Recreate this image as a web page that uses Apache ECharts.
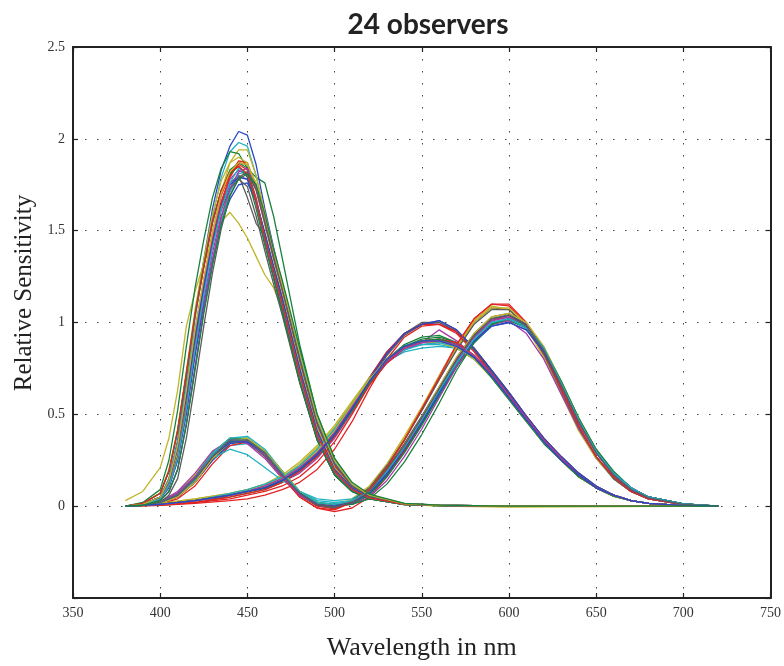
<!DOCTYPE html>
<html>
<head>
<meta charset="utf-8">
<title>24 observers</title>
<script src="https://cdn.jsdelivr.net/npm/echarts@6/dist/echarts.min.js"></script>
<style>
  html, body { margin: 0; padding: 0; background: #fff; }
  #chart { width: 784px; height: 666px; }
</style>
</head>
<body>
<div id="chart"></div>
<script>
// wavelength grids (nm) for each kind of curve
const xWl = [380,390,400,410,420,430,440,450,460,470,480,490,500,510,520,530,540,550,560,570,580,590,600,610,620,630,640,650,660,670,680,700,720]
const yWl = [380,400,420,440,450,460,470,480,490,500,510,520,530,540,550,560,570,580,590,600,610,620,630,640,650,660,670,680,700,720]
const zWl = [380,390,400,405,410,415,420,425,430,435,440,445,450,455,460,465,470,480,490,500,510,520,540,560,600,720]

// x-bar like curves, one row per observer
const xBar = [
  [0,0.005,0.02,0.06,0.15,0.27,0.35,0.36,0.29,0.18, 0.07,0.01,0.00,0.02,0.08,0.19,0.32,0.47,0.63,0.79, 0.91,1.00,1.02,0.97,0.84,0.66,0.46,0.29,0.17,0.09, 0.045,0.01,0],
  [0,0.005,0.02,0.05,0.13,0.25,0.33,0.34,0.28,0.18, 0.08,0.03,0.02,0.03,0.08,0.18,0.31,0.45,0.61,0.77, 0.90,0.99,1.02,0.97,0.85,0.67,0.47,0.30,0.18,0.10, 0.05,0.012,0],
  [0,0.005,0.02,0.07,0.16,0.28,0.36,0.36,0.28,0.16, 0.06,0.005,-0.01,0.03,0.10,0.22,0.36,0.52,0.69,0.86, 1.00,1.08,1.07,0.98,0.82,0.62,0.42,0.26,0.15,0.08, 0.04,0.008,0],
  [0,0.004,0.015,0.05,0.13,0.26,0.35,0.36,0.29,0.17, 0.06,0.00,-0.015,0.02,0.09,0.21,0.36,0.53,0.71,0.88, 1.02,1.10,1.09,0.99,0.83,0.63,0.43,0.27,0.15,0.08, 0.04,0.008,0],
  [0,0.005,0.02,0.07,0.17,0.29,0.37,0.36,0.28,0.16, 0.06,0.01,0.00,0.04,0.11,0.23,0.38,0.54,0.71,0.87, 1.01,1.09,1.07,0.97,0.81,0.61,0.41,0.26,0.15,0.08, 0.04,0.008,0],
  [0,0.005,0.02,0.07,0.16,0.29,0.37,0.37,0.30,0.18, 0.07,0.01,-0.005,0.015,0.07,0.17,0.30,0.45,0.61,0.77, 0.90,0.99,1.02,0.98,0.86,0.68,0.48,0.31,0.18,0.10, 0.05,0.012,0],
  [0,0.006,0.025,0.08,0.18,0.30,0.36,0.34,0.26,0.15, 0.06,0.01,0.00,0.02,0.08,0.19,0.33,0.48,0.64,0.80, 0.92,1.01,1.03,0.97,0.84,0.65,0.45,0.29,0.17,0.09, 0.045,0.01,0],
  [0,0.004,0.015,0.05,0.13,0.25,0.34,0.35,0.29,0.18, 0.08,0.015,0.00,0.02,0.07,0.17,0.30,0.45,0.61,0.76, 0.89,0.98,1.00,0.96,0.84,0.66,0.46,0.30,0.18,0.10, 0.05,0.012,0],
  [0,0.005,0.02,0.07,0.16,0.29,0.37,0.38,0.31,0.19, 0.08,0.02,0.01,0.03,0.09,0.20,0.33,0.48,0.64,0.80, 0.93,1.02,1.04,0.98,0.85,0.66,0.46,0.29,0.17,0.09, 0.045,0.01,0],
  [0,0.005,0.02,0.06,0.15,0.28,0.36,0.36,0.29,0.17, 0.07,0.01,-0.005,0.02,0.08,0.20,0.34,0.49,0.65,0.81, 0.94,1.03,1.05,0.99,0.86,0.67,0.47,0.30,0.18,0.10, 0.05,0.012,0],
  [0,0.003,0.012,0.04,0.11,0.23,0.33,0.35,0.28,0.16, 0.05,-0.01,-0.03,-0.01,0.05,0.16,0.30,0.46,0.63,0.79, 0.92,1.01,1.04,0.99,0.86,0.67,0.47,0.30,0.18,0.10, 0.05,0.012,0],
  [0,0.005,0.02,0.06,0.15,0.28,0.36,0.36,0.29,0.17, 0.07,0.01,-0.005,0.03,0.10,0.22,0.37,0.53,0.70,0.86, 1.00,1.08,1.08,0.99,0.83,0.63,0.43,0.27,0.16,0.08, 0.04,0.008,0],
  [0,0.005,0.02,0.06,0.14,0.26,0.35,0.36,0.30,0.19, 0.08,0.02,0.00,0.01,0.06,0.16,0.29,0.44,0.60,0.76, 0.89,0.99,1.01,0.97,0.85,0.67,0.47,0.30,0.18,0.10, 0.05,0.012,0],
  [0,0.005,0.02,0.06,0.15,0.27,0.35,0.35,0.28,0.17, 0.07,0.015,0.005,0.01,0.05,0.14,0.27,0.42,0.59,0.76, 0.90,0.99,1.01,0.94,0.80,0.61,0.42,0.27,0.16,0.08, 0.04,0.01,0],
  [0,0.005,0.02,0.06,0.15,0.27,0.36,0.36,0.29,0.17, 0.07,0.01,0.00,0.02,0.08,0.19,0.33,0.48,0.64,0.80, 0.93,1.02,1.04,0.99,0.86,0.67,0.47,0.30,0.18,0.10, 0.05,0.012,0],
  [0,0.005,0.02,0.06,0.14,0.26,0.31,0.28,0.21,0.14, 0.08,0.04,0.03,0.04,0.09,0.19,0.32,0.47,0.62,0.78, 0.91,1.00,1.02,0.97,0.85,0.66,0.46,0.29,0.17,0.09, 0.045,0.01,0],
  [0,0.005,0.02,0.07,0.16,0.28,0.36,0.35,0.27,0.16, 0.06,0.005,-0.01,0.03,0.10,0.22,0.36,0.52,0.69,0.85, 0.99,1.07,1.07,0.98,0.83,0.63,0.43,0.27,0.15,0.08, 0.04,0.008,0],
  [0,0.004,0.015,0.05,0.13,0.26,0.35,0.36,0.29,0.16, 0.05,-0.01,-0.02,0.02,0.09,0.21,0.36,0.53,0.70,0.88, 1.02,1.10,1.10,1.00,0.84,0.64,0.44,0.27,0.16,0.08, 0.04,0.008,0],
  [0,0.004,0.015,0.05,0.13,0.26,0.35,0.37,0.30,0.19, 0.08,0.02,0.00,0.02,0.08,0.19,0.33,0.48,0.65,0.81, 0.94,1.03,1.05,1.00,0.87,0.68,0.48,0.31,0.18,0.10, 0.05,0.012,0],
  [0,0.005,0.02,0.06,0.15,0.27,0.35,0.35,0.28,0.17, 0.07,0.02,0.01,0.01,0.04,0.12,0.24,0.39,0.56,0.74, 0.89,0.99,1.02,0.98,0.86,0.68,0.48,0.31,0.19,0.10, 0.05,0.012,0],
  [0,0.005,0.02,0.07,0.16,0.28,0.36,0.35,0.28,0.16, 0.06,0.01,0.00,0.02,0.08,0.19,0.32,0.47,0.63,0.79, 0.92,1.01,1.03,0.98,0.85,0.66,0.46,0.29,0.17,0.09, 0.045,0.01,0],
  [0,0.005,0.02,0.06,0.15,0.27,0.35,0.35,0.29,0.18, 0.07,0.01,0.00,0.02,0.07,0.18,0.31,0.46,0.62,0.78, 0.90,0.98,1.00,0.96,0.84,0.66,0.46,0.30,0.18,0.10, 0.05,0.012,0],
  [0,0.005,0.02,0.06,0.15,0.28,0.36,0.36,0.29,0.18, 0.08,0.02,0.01,0.03,0.08,0.19,0.32,0.47,0.63,0.78, 0.91,1.00,1.02,0.98,0.86,0.67,0.47,0.30,0.18,0.10, 0.05,0.012,0],
  [0,0.005,0.02,0.06,0.15,0.27,0.36,0.36,0.29,0.17, 0.07,0.01,-0.005,0.02,0.08,0.20,0.33,0.48,0.64,0.80, 0.93,1.02,1.04,0.98,0.85,0.66,0.46,0.29,0.17,0.09, 0.045,0.01,0]
]

// y-bar like curves, one row per observer
const yBar = [
  [0,0.01,0.03,0.06, 0.08,0.10,0.14,0.20,0.28,0.39,0.53,0.68,0.79,0.86, 0.89,0.90,0.88,0.82,0.72,0.60,0.48,0.36,0.26,0.17, 0.10,0.06,0.03,0.015, 0.003,0],
  [0,0.01,0.03,0.06, 0.08,0.10,0.13,0.18,0.26,0.37,0.51,0.66,0.78,0.86, 0.89,0.96,0.90,0.82,0.72,0.60,0.48,0.36,0.26,0.17, 0.10,0.06,0.03,0.015, 0.003,0],
  [0,0.01,0.03,0.06, 0.08,0.11,0.15,0.21,0.30,0.41,0.55,0.70,0.84,0.94, 0.99,1.00,0.95,0.85,0.73,0.61,0.48,0.36,0.26,0.17, 0.10,0.06,0.03,0.015, 0.003,0],
  [0,0.01,0.03,0.06, 0.08,0.11,0.15,0.22,0.31,0.42,0.56,0.70,0.79,0.84, 0.86,0.87,0.86,0.80,0.71,0.59,0.47,0.35,0.25,0.17, 0.10,0.06,0.03,0.015, 0.003,0],
  [0,0.01,0.03,0.06, 0.08,0.10,0.14,0.20,0.28,0.39,0.53,0.69,0.83,0.94, 1.00,1.00,0.95,0.85,0.73,0.61,0.48,0.36,0.26,0.17, 0.10,0.06,0.03,0.015, 0.003,0],
  [0,0.005,0.015,0.03, 0.04,0.06,0.09,0.13,0.20,0.31,0.46,0.64,0.80,0.92, 0.98,0.99,0.95,0.86,0.74,0.62,0.49,0.37,0.27,0.18, 0.11,0.06,0.03,0.015, 0.003,0],
  [0,0.015,0.04,0.07, 0.09,0.12,0.17,0.24,0.33,0.44,0.57,0.70,0.80,0.86, 0.89,0.90,0.87,0.81,0.71,0.59,0.47,0.35,0.25,0.17, 0.10,0.06,0.03,0.015, 0.003,0],
  [0,0.01,0.03,0.05, 0.07,0.09,0.13,0.19,0.27,0.38,0.52,0.67,0.79,0.87, 0.91,0.92,0.89,0.82,0.71,0.59,0.47,0.35,0.25,0.16, 0.10,0.055,0.03,0.015, 0.003,0],
  [0,0.01,0.03,0.06, 0.08,0.10,0.14,0.20,0.28,0.39,0.53,0.68,0.79,0.86, 0.88,0.89,0.87,0.81,0.72,0.60,0.48,0.36,0.26,0.17, 0.10,0.06,0.03,0.015, 0.003,0],
  [0,0.01,0.03,0.06, 0.08,0.10,0.14,0.20,0.29,0.40,0.54,0.69,0.80,0.87, 0.90,0.90,0.88,0.82,0.72,0.60,0.48,0.36,0.26,0.17, 0.10,0.06,0.03,0.015, 0.003,0],
  [0,0.01,0.03,0.06, 0.08,0.11,0.15,0.21,0.30,0.41,0.55,0.69,0.80,0.86, 0.88,0.88,0.86,0.80,0.71,0.60,0.48,0.36,0.26,0.17, 0.10,0.06,0.03,0.015, 0.003,0],
  [0,0.01,0.03,0.06, 0.08,0.10,0.14,0.20,0.28,0.39,0.53,0.68,0.82,0.93, 0.99,1.01,0.96,0.86,0.74,0.62,0.49,0.37,0.27,0.18, 0.11,0.06,0.03,0.015, 0.003,0],
  [0,0.01,0.02,0.05, 0.07,0.09,0.13,0.19,0.27,0.38,0.53,0.70,0.84,0.94, 0.99,0.99,0.94,0.84,0.72,0.60,0.47,0.35,0.25,0.16, 0.10,0.055,0.03,0.015, 0.003,0],
  [0,0.015,0.04,0.07, 0.09,0.12,0.16,0.23,0.32,0.43,0.56,0.70,0.80,0.86, 0.89,0.89,0.86,0.80,0.70,0.58,0.46,0.35,0.25,0.16, 0.10,0.055,0.03,0.015, 0.003,0],
  [0,0.01,0.03,0.06, 0.08,0.10,0.14,0.20,0.28,0.39,0.53,0.68,0.80,0.88, 0.92,0.93,0.89,0.81,0.70,0.58,0.46,0.34,0.25,0.16, 0.10,0.055,0.03,0.015, 0.003,0],
  [0,0.01,0.03,0.06, 0.08,0.10,0.14,0.20,0.28,0.39,0.53,0.67,0.78,0.85, 0.89,0.91,0.89,0.82,0.72,0.60,0.48,0.36,0.26,0.17, 0.10,0.06,0.03,0.015, 0.003,0],
  [0,0.01,0.03,0.06, 0.08,0.10,0.14,0.21,0.29,0.40,0.54,0.69,0.83,0.94, 0.99,1.01,0.96,0.86,0.74,0.62,0.49,0.37,0.27,0.18, 0.11,0.06,0.03,0.015, 0.003,0],
  [0,0.01,0.03,0.07, 0.09,0.12,0.16,0.22,0.31,0.42,0.55,0.69,0.79,0.85, 0.88,0.89,0.87,0.81,0.71,0.59,0.47,0.35,0.25,0.17, 0.10,0.06,0.03,0.015, 0.003,0],
  [0,0.01,0.03,0.06, 0.08,0.10,0.14,0.20,0.28,0.39,0.53,0.68,0.80,0.87, 0.90,0.91,0.88,0.82,0.72,0.60,0.48,0.36,0.26,0.17, 0.10,0.06,0.03,0.015, 0.003,0],
  [0,0.005,0.02,0.04, 0.06,0.08,0.11,0.16,0.24,0.35,0.50,0.66,0.78,0.86, 0.90,0.91,0.89,0.82,0.72,0.60,0.48,0.36,0.26,0.17, 0.10,0.06,0.03,0.015, 0.003,0],
  [0,0.01,0.03,0.06, 0.08,0.11,0.15,0.21,0.30,0.41,0.55,0.69,0.80,0.87, 0.90,0.90,0.87,0.81,0.71,0.59,0.47,0.35,0.25,0.16, 0.10,0.055,0.03,0.015, 0.003,0],
  [0,0.01,0.03,0.06, 0.08,0.10,0.14,0.20,0.28,0.39,0.52,0.67,0.79,0.87, 0.90,0.91,0.88,0.81,0.71,0.59,0.47,0.35,0.25,0.16, 0.10,0.055,0.03,0.015, 0.003,0],
  [0,0.01,0.03,0.06, 0.08,0.11,0.15,0.21,0.29,0.40,0.54,0.68,0.79,0.86, 0.89,0.90,0.88,0.82,0.72,0.60,0.48,0.36,0.26,0.17, 0.10,0.06,0.03,0.015, 0.003,0],
  [0,0.01,0.03,0.06, 0.08,0.10,0.14,0.20,0.28,0.39,0.53,0.68,0.80,0.87, 0.90,0.90,0.87,0.81,0.71,0.59,0.47,0.35,0.25,0.17, 0.10,0.06,0.03,0.015, 0.003,0]
]

// z-bar like curves, one row per observer
const zBar = [
  [0,0.01,0.05,0.14,0.33,0.63,0.96,1.23,1.49,1.69,1.81, 1.86,1.83,1.68,1.47,1.29,1.11, 0.73,0.39,0.19,0.09,0.045, 0.01,0.004, 0,0],
  [0.03,0.08,0.21,0.37,0.63,0.98,1.17,1.32,1.45,1.55,1.60, 1.54,1.46,1.36,1.26,1.19,1.07, 0.72,0.40,0.20,0.09,0.045, 0.01,0.0, -0.005,0],
  [0,0.015,0.07,0.19,0.41,0.72,1.04,1.30,1.54,1.72,1.83, 1.87,1.84,1.79,1.76,1.58,1.35, 0.88,0.50,0.26,0.12,0.06, 0.015,0.006, 0,0],
  [0,0.01,0.04,0.11,0.25,0.52,0.84,1.12,1.38,1.58,1.72, 1.80,1.78,1.66,1.48,1.30,1.13, 0.75,0.41,0.20,0.10,0.05, 0.011,0.004, 0,0],
  [0,0.01,0.05,0.15,0.36,0.68,1.04,1.34,1.62,1.83,1.96, 2.04,2.02,1.86,1.62,1.41,1.21, 0.79,0.43,0.21,0.10,0.05, 0.011,0.004, 0,0],
  [0,0.01,0.05,0.15,0.35,0.66,1.02,1.31,1.57,1.79,1.93, 1.98,1.96,1.80,1.58,1.38,1.18, 0.77,0.42,0.20,0.10,0.05, 0.011,0.004, 0,0],
  [0,0.01,0.05,0.13,0.31,0.60,0.92,1.19,1.44,1.64,1.76, 1.80,1.68,1.54,1.47,1.25,1.05, 0.68,0.37,0.18,0.085,0.04, 0.009,0.003, 0,0],
  [0,0.01,0.04,0.11,0.27,0.54,0.87,1.17,1.43,1.65,1.79, 1.87,1.86,1.74,1.56,1.37,1.20, 0.81,0.46,0.23,0.11,0.055, 0.012,0.005, 0,0],
  [0,0.01,0.04,0.12,0.29,0.57,0.92,1.21,1.48,1.71,1.87, 1.94,1.94,1.80,1.60,1.40,1.21, 0.80,0.44,0.22,0.10,0.05, 0.011,0.004, 0,0],
  [0,0.02,0.09,0.25,0.52,0.87,1.19,1.45,1.68,1.84,1.93, 1.92,1.84,1.65,1.44,1.25,1.07, 0.68,0.36,0.17,0.08,0.04, 0.009,0.003, 0,0],
  [0,0.01,0.05,0.14,0.33,0.62,0.94,1.21,1.46,1.66,1.78, 1.83,1.80,1.65,1.45,1.27,1.09, 0.71,0.38,0.19,0.09,0.045, 0.01,0.004, 0,0],
  [0,0.01,0.04,0.10,0.25,0.50,0.82,1.09,1.34,1.54,1.67, 1.75,1.76,1.66,1.49,1.31,1.14, 0.77,0.44,0.22,0.11,0.05, 0.012,0.005, 0,0],
  [0,0.005,0.03,0.08,0.20,0.45,0.75,1.06,1.32,1.55,1.71, 1.81,1.82,1.73,1.56,1.37,1.19, 0.82,0.47,0.24,0.12,0.06, 0.013,0.005, 0,0],
  [0,0.01,0.05,0.14,0.32,0.60,0.92,1.18,1.42,1.61,1.73, 1.78,1.74,1.58,1.39,1.21,1.04, 0.67,0.36,0.17,0.08,0.04, 0.009,0.003, 0,0],
  [0,0.01,0.04,0.11,0.27,0.55,0.88,1.17,1.44,1.65,1.80, 1.88,1.87,1.74,1.55,1.36,1.18, 0.79,0.44,0.22,0.10,0.05, 0.011,0.004, 0,0],
  [0,0.015,0.07,0.20,0.42,0.74,1.07,1.34,1.59,1.77,1.87, 1.90,1.87,1.73,1.53,1.34,1.16, 0.77,0.43,0.21,0.10,0.05, 0.011,0.004, 0,0],
  [0,0.015,0.07,0.19,0.41,0.72,1.05,1.31,1.55,1.72,1.81, 1.85,1.79,1.62,1.42,1.24,1.06, 0.68,0.36,0.17,0.08,0.04, 0.009,0.003, 0,0],
  [0,0.005,0.03,0.08,0.20,0.45,0.76,1.07,1.34,1.57,1.73, 1.82,1.84,1.73,1.55,1.36,1.18, 0.80,0.45,0.23,0.11,0.055, 0.012,0.005, 0,0],
  [0,0.01,0.05,0.13,0.32,0.60,0.92,1.19,1.43,1.63,1.75, 1.79,1.78,1.66,1.48,1.30,1.13, 0.75,0.41,0.20,0.10,0.05, 0.011,0.004, 0,0],
  [0,0.01,0.04,0.11,0.26,0.53,0.86,1.15,1.41,1.62,1.76, 1.84,1.81,1.66,1.46,1.28,1.10, 0.72,0.39,0.19,0.09,0.045, 0.01,0.004, 0,0],
  [0,0.005,0.02,0.06,0.15,0.37,0.67,0.98,1.27,1.51,1.69, 1.79,1.82,1.72,1.54,1.35,1.18, 0.80,0.45,0.23,0.11,0.055, 0.012,0.005, 0,0],
  [0,0.015,0.07,0.19,0.41,0.72,1.04,1.30,1.55,1.72,1.82, 1.85,1.81,1.66,1.46,1.28,1.10, 0.72,0.39,0.19,0.09,0.045, 0.01,0.004, 0,0],
  [0,0.01,0.05,0.14,0.33,0.63,0.96,1.24,1.49,1.70,1.82, 1.87,1.86,1.76,1.58,1.39,1.21, 0.84,0.48,0.25,0.12,0.06, 0.013,0.005, 0,0],
  [0,0.005,0.03,0.08,0.20,0.44,0.74,1.05,1.31,1.53,1.69, 1.78,1.81,1.75,1.59,1.40,1.23, 0.86,0.50,0.26,0.13,0.065, 0.015,0.006, 0,0]
]

// matlab style line colour order, a bit softened like the print
const COLORS = ['#2a48c4', '#17813d', '#e42222', '#1fb2c2', '#a83aa8', '#c2b428', '#5c5c5c']

const chart = echarts.init(document.getElementById('chart'))

const toPairs = (wl, vals) => wl.map((w, i) => [w, vals[i]])

const series = []
for (let k = 0; k < xBar.length; k++) {
  const curves = [toPairs(xWl, xBar[k]), toPairs(yWl, yBar[k]), toPairs(zWl, zBar[k])]
  curves.forEach(data => {
    series.push({
      type: 'line',
      data: data,
      symbol: 'none',
      silent: true,
      lineStyle: { width: 1.3, color: COLORS[series.length % COLORS.length] }
    })
  })
}

const SERIF = '"Liberation Serif", "Times New Roman", serif'
const frame = { show: true, onZero: false, lineStyle: { color: '#222', width: 2 } }
const ticks = { show: true, inside: true, length: 5, lineStyle: { color: '#222', width: 1.2 } }
const grid = { show: true, lineStyle: { color: '#444', width: 1, type: [1.5, 10.5] } }

const option = {
  animation: false,
  title: {
    text: '24 observers',
    left: 423,
    textAlign: 'center',
    top: 6,
    textStyle: { fontFamily: 'Lato', fontWeight: 'bold', fontSize: 28, color: '#222' }
  },
  grid: { left: 73, right: 10, top: 47, bottom: 67 },
  xAxis: [
    {
      type: 'value', min: 350, max: 750, interval: 50,
      name: 'Wavelength in nm', nameLocation: 'middle', nameGap: 37,
      nameTextStyle: { fontFamily: SERIF, fontSize: 26, color: '#222' },
      axisLine: frame, axisTick: ticks, splitLine: grid,
      axisLabel: { fontFamily: SERIF, fontSize: 14, color: '#333', margin: 8 }
    },
    {
      type: 'value', position: 'top', min: 350, max: 750, interval: 50,
      axisLine: frame, axisTick: ticks, splitLine: { show: false }, axisLabel: { show: false }
    }
  ],
  yAxis: [
    {
      type: 'value', min: -0.5, max: 2.5, interval: 0.5,
      axisLine: frame, axisTick: ticks, splitLine: grid,
      axisLabel: {
        fontFamily: SERIF, fontSize: 14, color: '#333', margin: 8,
        formatter: v => (v < 0 ? '' : String(v))
      }
    },
    {
      type: 'value', position: 'right', min: -0.5, max: 2.5, interval: 0.5,
      axisLine: frame, axisTick: ticks, splitLine: { show: false }, axisLabel: { show: false }
    }
  ],
  graphic: [
    {
      type: 'text',
      x: 24, y: 293,
      rotation: Math.PI / 2,
      style: {
        text: 'Relative Sensitivity',
        fontFamily: SERIF, fontSize: 25, fill: '#222',
        textAlign: 'center', textVerticalAlign: 'middle'
      }
    }
  ],
  series: series
}

chart.setOption(option)
</script>
</body>
</html>
